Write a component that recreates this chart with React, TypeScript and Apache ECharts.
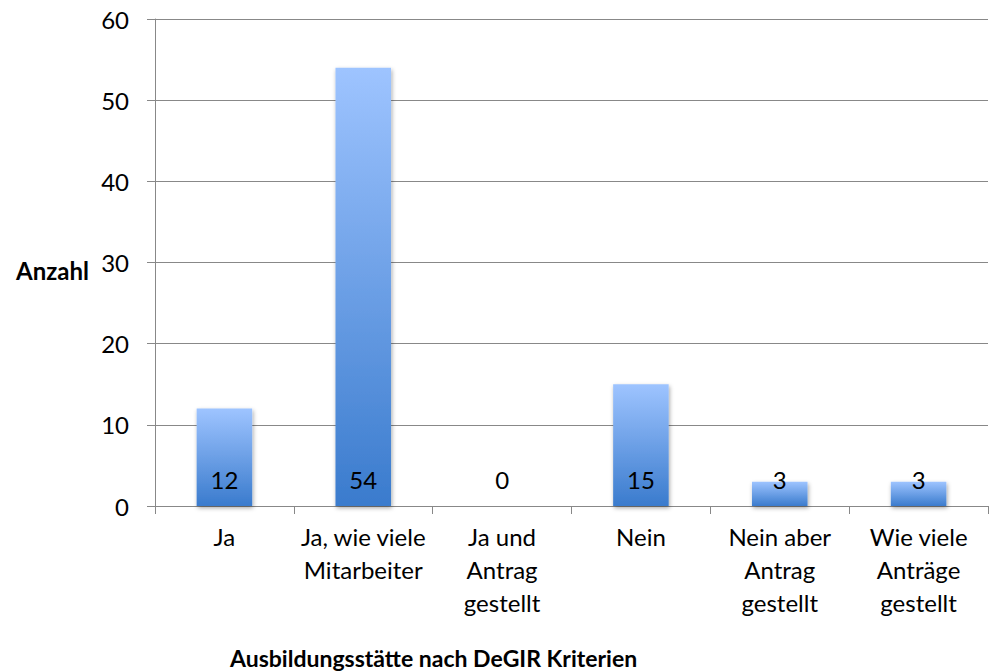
import React, { useEffect, useRef } from "react";
import * as echarts from "echarts";

const categories = [
  "Ja",
  "Ja, wie viele\nMitarbeiter",
  "Ja und\nAntrag\ngestellt",
  "Nein",
  "Nein aber\nAntrag\ngestellt",
  "Wie viele\nAnträge\ngestellt",
];
const values = [12, 54, 0, 15, 3, 3];
const yTitle = "Anzahl";
const xTitle = "Ausbildungsstätte nach DeGIR Kriterien";

const FONT = "Lato, 'Open Sans', sans-serif";

export default function App() {
  const ref = useRef<HTMLDivElement>(null);
  useEffect(() => {
    if (!ref.current) return;
    const chart = echarts.init(ref.current, null, { renderer: "svg" });
    chart.setOption({
      animation: false,
      textStyle: { fontFamily: FONT },
      grid: { left: 155, right: 1, top: 19, bottom: 165, containLabel: false },
      xAxis: {
        type: "category",
        data: categories,
        axisLine: { lineStyle: { color: "#888", width: 1 } },
        axisTick: { show: true, alignWithLabel: false, length: 8, lineStyle: { color: "#888" } },
        axisLabel: {
          color: "#000",
          fontSize: 24,
          lineHeight: 33,
          margin: 14,
          interval: 0,
          fontFamily: FONT,
        },
      },
      yAxis: {
        type: "value",
        min: 0,
        max: 60,
        interval: 10,
        axisLine: { show: true, lineStyle: { color: "#888", width: 1 } },
        axisTick: { show: true, length: 8, lineStyle: { color: "#888" } },
        splitLine: { lineStyle: { color: "#888", width: 1 } },
        axisLabel: { color: "#000", fontSize: 24, margin: 26, fontFamily: FONT },
      },
      graphic: [
        {
          type: "text",
          x: 16,
          y: 270,
          style: {
            text: yTitle,
            fontFamily: FONT,
            fontSize: 24,
            fontWeight: "bold",
            fill: "#000",
            verticalAlign: "middle",
            align: "left",
          },
        },
        {
          type: "text",
          x: 230,
          y: 658,
          style: {
            text: xTitle,
            fontFamily: FONT,
            fontSize: 23,
            fontWeight: "bold",
            fill: "#000",
            verticalAlign: "middle",
            align: "left",
          },
        },
      ],
      series: [
        {
          type: "bar",
          data: values,
          barWidth: "40%",
          itemStyle: {
            color: new echarts.graphic.LinearGradient(0, 0, 0, 1, [
              { offset: 0, color: "#9EC4FF" },
              { offset: 1, color: "#3A7BCD" },
            ]),
            shadowBlur: 4,
            shadowColor: "rgba(0,0,0,0.35)",
            shadowOffsetX: 1,
            shadowOffsetY: 2,
          },
          label: {
            show: true,
            position: "insideBottom",
            distance: 15,
            color: "#000",
            fontSize: 24,
            fontFamily: FONT,
          },
        },
      ],
    });
    return () => chart.dispose();
  }, []);
  return (
    <div
      ref={ref}
      style={{ position: "fixed", left: 0, top: 0, width: 989, height: 671, background: "#fff" }}
    />
  );
}
